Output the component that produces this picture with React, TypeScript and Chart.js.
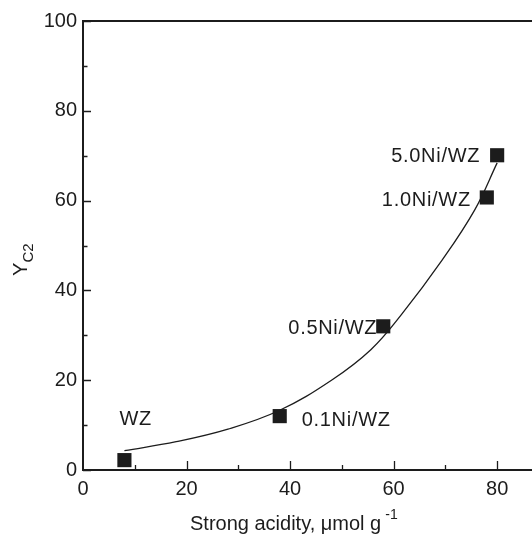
import React, { useEffect, useRef } from "react";
import { Chart, registerables } from "chart.js";

Chart.register(...registerables);

// Measured points
const acidity = [8, 38, 58, 78, 80];
const yieldC2 = [2.2, 12.0, 32.0, 60.7, 70.1];
const pointNames = ["WZ", "0.1Ni/WZ", "0.5Ni/WZ", "1.0Ni/WZ", "5.0Ni/WZ"];

// Fitted curve
const fitX = [8, 18, 28, 38, 48, 55.6, 61.5, 69.4, 75.7, 80];
const fitY = [4.3, 6.3, 9.1, 13.3, 20.0, 26.8, 34.6, 46.8, 58.0, 68.4];

// Axis ticks
const xMajor = [0, 20, 40, 60, 80];
const xMinor = [10, 30, 50, 70];
const yMajor = [0, 20, 40, 60, 80, 100];
const yMinor = [10, 30, 50, 70, 90];

const INK = "#1c1c1c";
const FONT = "Liberation Sans, Arial, Helvetica, sans-serif";

// label placement relative to marker (px) and alignment
const labelPlace: { dx: number; dy: number; align: CanvasTextAlign }[] = [
  { dx: -5, dy: -42, align: "left" },
  { dx: 22, dy: 3, align: "left" },
  { dx: -6, dy: 0, align: "right" },
  { dx: -16, dy: 1, align: "right" },
  { dx: -17, dy: 0, align: "right" },
];

const overlay = {
  id: "overlay",
  afterDraw(chart: any) {
    const ctx: CanvasRenderingContext2D = chart.ctx;
    const xs = chart.scales.x;
    const ys = chart.scales.y;
    const { left, top, bottom } = chart.chartArea;
    ctx.save();
    ctx.strokeStyle = INK;
    ctx.fillStyle = INK;
    // axis lines
    ctx.lineWidth = 2;
    ctx.beginPath();
    ctx.moveTo(left, top);
    ctx.lineTo(left, bottom);
    ctx.lineTo(chart.width, bottom);
    ctx.moveTo(left - 1, top);
    ctx.lineTo(chart.width, top);
    ctx.stroke();
    // ticks inward
    ctx.lineWidth = 1.3;
    ctx.beginPath();
    const yt = (vals: number[], len: number) =>
      vals.forEach((v) => {
        const p = Math.round(ys.getPixelForValue(v)) + 0.5;
        ctx.moveTo(left, p);
        ctx.lineTo(left + len, p);
      });
    const xt = (vals: number[], len: number) =>
      vals.forEach((v) => {
        if (v === 0) return;
        const p = Math.round(xs.getPixelForValue(v)) + 0.5;
        ctx.moveTo(p, bottom);
        ctx.lineTo(p, bottom - len);
      });
    yt(yMajor, 8);
    yt(yMinor, 4.5);
    xt(xMajor, 9);
    xt(xMinor, 5);
    ctx.stroke();

    // x tick labels
    ctx.font = `20px ${FONT}`;
    ctx.textAlign = "center";
    ctx.textBaseline = "alphabetic";
    xMajor.forEach((v) => {
      ctx.fillText(String(v), xs.getPixelForValue(v), bottom + 25);
    });

    // point labels
    (ctx as any).letterSpacing = "0.7px";
    pointNames.forEach((name, i) => {
      const px = xs.getPixelForValue(acidity[i]);
      const py = ys.getPixelForValue(yieldC2[i]);
      const pl = labelPlace[i];
      ctx.textAlign = pl.align;
      ctx.fillText(name, px + pl.dx, py + pl.dy + 7.2);
    });
    (ctx as any).letterSpacing = "0px";

    // x title
    ctx.textAlign = "left";
    ctx.font = `20px ${FONT}`;
    const main = "Strong acidity, \u03bcmol g";
    ctx.fillText(main, 190, 530);
    const w = ctx.measureText(main).width;
    ctx.font = `14px ${FONT}`;
    ctx.fillText("-1", 190 + w + 4, 519);

    // y title
    ctx.rotate(-Math.PI / 2);
    ctx.font = `20px ${FONT}`;
    ctx.fillText("Y", -276, 26.5);
    ctx.font = `15px ${FONT}`;
    ctx.fillText("C2", -262.5, 33);
    ctx.restore();
  },
};

export default function App() {
  const ref = useRef<HTMLCanvasElement>(null);
  useEffect(() => {
    document.body.style.margin = "0";
    const canvas = ref.current!;
    const chart = new Chart(canvas, {
      type: "scatter",
      data: {
        datasets: [
          {
            label: "points",
            data: acidity.map((x, i) => ({ x, y: yieldC2[i] })),
            pointStyle: "rect",
            pointRadius: 10,
            pointBackgroundColor: INK,
            pointBorderColor: INK,
            pointBorderWidth: 0,
            showLine: false,
          },
          {
            label: "fit",
            data: fitX.map((x, i) => ({ x, y: fitY[i] })),
            showLine: true,
            pointRadius: 0,
            borderColor: INK,
            borderWidth: 1.3,
            tension: 0.4,
            fill: false,
          },
        ],
      },
      options: {
        animation: false,
        responsive: false,
        devicePixelRatio: 1,
        layout: { padding: { left: 0, top: 21, right: 0, bottom: 0 } },
        plugins: { legend: { display: false }, tooltip: { enabled: false } },
        scales: {
          x: {
            type: "linear",
            min: 0,
            max: 84.8,
            afterBuildTicks: (s: any) => {
              s.ticks = xMajor.map((v) => ({ value: v }));
            },
            afterFit: (s: any) => {
              s.height = 67;
            },
            grid: { display: false },
            border: { display: false },
            ticks: { display: false },
          },
          y: {
            type: "linear",
            min: 0,
            max: 100,
            afterBuildTicks: (s: any) => {
              s.ticks = yMajor.map((v) => ({ value: v }));
            },
            afterFit: (s: any) => {
              s.width = 83;
            },
            grid: { display: true, drawOnChartArea: false, drawTicks: false, color: "rgba(0,0,0,0)" },
            border: { display: false },
            ticks: { color: INK, font: { family: FONT, size: 20 }, padding: 6, autoSkip: false },
          },
        },
      },
      plugins: [overlay],
    });
    return () => chart.destroy();
  }, []);
  return (
    <div style={{ position: "fixed", left: 0, top: 0 }}>
      <canvas ref={ref} width={532} height={537} style={{ width: 532, height: 537, display: "block" }} />
    </div>
  );
}
